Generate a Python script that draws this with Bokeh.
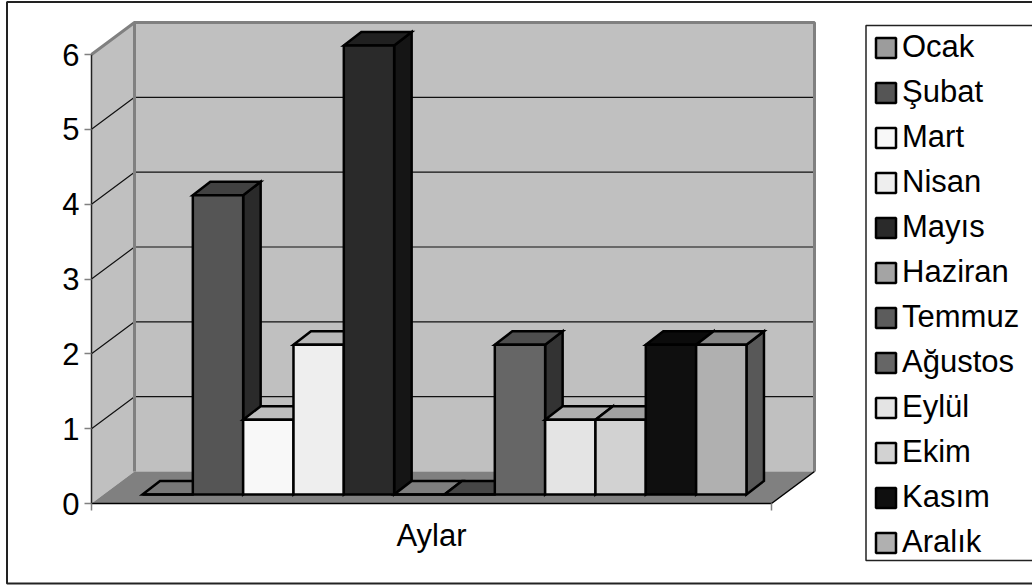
from bokeh.plotting import figure
from bokeh.embed import file_html
from bokeh.resources import INLINE
from bokeh.models import LinearAxis, FixedTicker, Legend, LegendItem

months = ["Ocak", "Şubat", "Mart", "Nisan", "Mayıs", "Haziran", "Temmuz", "Ağustos", "Eylül", "Ekim", "Kasım", "Aralık"]
values = [0, 4, 1, 2, 6, 0, 0, 2, 1, 1, 2, 2]
y_ticks = [0, 1, 2, 3, 4, 5, 6]
category = "Aylar"

face = ["#9c9c9c", "#555555", "#f8f8f8", "#eeeeee", "#2a2a2a", "#a4a4a4", "#5c5c5c", "#666666", "#e4e4e4", "#d2d2d2", "#0f0f0f", "#b0b0b0"]

W, H = 1032, 586
UX = 50.33     # px per series
UY = 74.83     # px per value unit
X0_PX, Y0_PX = 142.0, 503.0


def X(px):
    return (px - X0_PX) / UX


def Y(py):
    return (Y0_PX - py) / UY


def shade(col, f):
    n = int(int(col[1:3], 16) * f)
    return f"#{n:02x}{n:02x}{n:02x}"


p = figure(width=W, height=H, x_range=(X(0), X(W)), y_range=(Y(H), Y(0)),
           x_axis_type=None, y_axis_type=None, toolbar_location=None,
           output_backend="svg", min_border=0, outline_line_color=None,
           background_fill_color="white", border_fill_color="white")
p.grid.visible = False
p.margin = (0, 0, 0, 0)

# chart area border
p.quad(left=[X(6.5)], right=[X(W + 20)], top=[Y(1.5)], bottom=[Y(583)],
       fill_color=None, line_color="#222222", line_width=2)

# legend box
p.quad(left=[X(865.5)], right=[X(W + 20)], top=[Y(25)], bottom=[Y(560)],
       fill_color="white", line_color="#222222", line_width=1.5)

# walls and floor
DX, DY = 43 / UX, 32 / UY
ax_l, ax_r = X(91), X(771)
top_v = y_ticks[-1]
p.patch([ax_l + DX, ax_r + DX, ax_r + DX, ax_l + DX], [DY, DY, top_v + DY, top_v + DY],
        fill_color="#c0c0c0", line_color=None)
p.patch([ax_l, ax_l + DX, ax_l + DX, ax_l], [0, DY, top_v + DY, top_v],
        fill_color="#c0c0c0", line_color=None)
p.patch([ax_l, ax_r, ax_r + DX, ax_l + DX], [0, 0, DY, DY],
        fill_color="#808080", line_color=None)

# gridlines
grid_v = y_ticks[1:-1]
p.multi_line([[ax_l, ax_l + DX, ax_r + DX] for _ in grid_v],
             [[v, v + DY, v + DY] for v in grid_v], line_color="#111111", line_width=1.2)

# wall edges
p.line([ax_l, ax_l + DX, ax_r + DX, ax_r + DX], [top_v, top_v + DY, top_v + DY, DY],
       line_color="#808080", line_width=3)
p.line([ax_l + DX, ax_l + DX], [DY, top_v + DY], line_color="#808080", line_width=3)
p.line([ax_r, ax_r + DX], [0, DY], line_color="black", line_width=1.5)

# bars
BASE = 9 / UY
BX, BY = 17.5 / UX, 13.5 / UY
LW = 2.5
legend_items = []
for i, (m, v, c) in enumerate(zip(months, values, face)):
    top = v + BASE
    tc, sc = shade(c, 0.77), shade(c, 0.5)
    p.patch([i + 1, i + 1 + BX, i + 1 + BX, i + 1], [BASE, BASE + BY, top + BY, top],
            fill_color=sc, line_color="black", line_width=LW, line_join="miter")
    p.patch([i, i + BX, i + 1 + BX, i + 1], [top, top + BY, top + BY, top],
            fill_color=tc, line_color="black", line_width=LW, line_join="miter")
    r = p.quad(left=[i], right=[i + 1], bottom=[BASE], top=[top],
               fill_color=c, line_color="black", line_width=LW)
    legend_items.append(LegendItem(label=m, renderers=[r]))

FONT = "Liberation Sans"
FS = "31px"

yaxis = LinearAxis(fixed_location=ax_l, ticker=FixedTicker(ticks=y_ticks), bounds=(0, top_v),
                   major_label_text_font=FONT, major_label_text_font_size=FS,
                   major_label_text_color="black", major_label_standoff=5,
                   axis_line_color="#222222", axis_line_width=1.5,
                   major_tick_in=0, major_tick_out=7, major_tick_line_color="#808080",
                   major_tick_line_width=1.5, minor_tick_line_color=None)
p.add_layout(yaxis, "left")

xaxis = LinearAxis(fixed_location=0, ticker=FixedTicker(ticks=[(ax_l + ax_r) / 2], minor_ticks=[ax_l, ax_r]),
                   bounds=(ax_l, ax_r), major_label_overrides={(ax_l + ax_r) / 2: category},
                   major_label_text_font=FONT, major_label_text_font_size=FS,
                   major_label_text_color="black", major_label_standoff=7,
                   axis_line_color="black", axis_line_width=1.5,
                   major_tick_in=0, major_tick_out=0, major_tick_line_color=None,
                   minor_tick_in=0, minor_tick_out=7, minor_tick_line_color="#808080",
                   minor_tick_line_width=1.5)
p.add_layout(xaxis, "below")

legend = Legend(items=legend_items, location=(873, H - 560), orientation="vertical",
                label_text_font=FONT, label_text_font_size="31px", label_text_color="black",
                glyph_width=25, glyph_height=25, label_standoff=4, padding=0, margin=0,
                spacing=9, label_width=150, border_line_color=None,
                background_fill_color="white", background_fill_alpha=0)
p.add_layout(legend, "center")

open("out.html", "w").write(file_html(p, INLINE))
